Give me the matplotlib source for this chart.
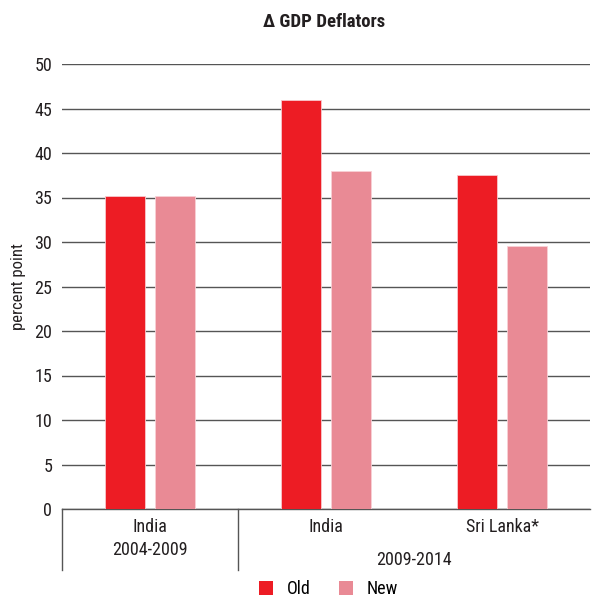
import matplotlib
matplotlib.use("Agg")
import matplotlib.pyplot as plt
from matplotlib import font_manager as fm
from matplotlib.patches import Patch
from matplotlib.lines import Line2D
import numpy as np

# ---- data ----
cat_labels = ["India", "India", "Sri Lanka*"]
period_labels = ["2004-2009", "2009-2014"]
old_values = [35.2, 45.9, 37.5]
new_values = [35.2, 38.0, 29.6]
series_names = ["Old", "New"]
yticks = [0, 5, 10, 15, 20, 25, 30, 35, 40, 45, 50]

# ---- font choice ----
names = {f.name for f in fm.fontManager.ttflist}
fam = "DejaVu Sans"
stretch = "normal"
for cand in ["Roboto Condensed", "Liberation Sans Narrow", "Open Sans Condensed", "DejaVu Sans Condensed"]:
    if cand in names:
        fam = cand
        break
else:
    stretch = "condensed"
plt.rcParams["font.family"] = [fam, "DejaVu Sans"]
plt.rcParams["font.stretch"] = stretch

RED = "#ED1C24"
PINK = "#E98A95"
TXT = "#231F20"

fig = plt.figure(figsize=(5.92, 5.98), dpi=100)
ax = fig.add_axes([62/592, 1-509/598, (590-62)/592, (509-64)/598])

x = np.arange(len(cat_labels))
w = 0.226
off = 0.141
ax.bar(x - off, old_values, w, color=RED, edgecolor="#F8C8CC", linewidth=0.6, zorder=3)
ax.bar(x + off, new_values, w, color=PINK, edgecolor="#F8D0D6", linewidth=0.6, zorder=3)

ax.set_xlim(-0.5, 2.5)
ax.set_ylim(0, 50)
ax.set_yticks(yticks)
ax.yaxis.grid(True, color="#555555", linewidth=1.0, zorder=0)
ax.set_axisbelow(True)
for s in ["top", "right", "left"]:
    ax.spines[s].set_visible(False)
ax.spines["bottom"].set_color("#555555")
ax.spines["bottom"].set_linewidth(1.0)
ax.tick_params(axis="y", length=0, pad=7, labelsize=13, labelcolor=TXT)
ax.set_xticks([])
ax.set_ylabel("percent point", fontsize=12, color=TXT, labelpad=6)

# category labels
for xi, lab in zip(x, cat_labels):
    ax.text(xi, -18/445, lab, transform=ax.get_xaxis_transform(), ha="center", va="center",
            fontsize=13, color=TXT)
ax.text(0, -41/445, period_labels[0], transform=ax.get_xaxis_transform(), ha="center", va="center",
        fontsize=13, color=TXT)
ax.text(1.5, -51/445, period_labels[1], transform=ax.get_xaxis_transform(), ha="center", va="center",
        fontsize=13, color=TXT)
for xs in [-0.5, 0.5]:
    ax.add_line(Line2D([xs, xs], [0, -61/445], transform=ax.get_xaxis_transform(),
                       color="#555555", linewidth=1.0, clip_on=False))

fig.text(324/592, 1-22/598, "Δ GDP Deflators", ha="center", va="center",
         fontsize=13.5, fontweight="bold", color=TXT)

handles = [Patch(facecolor=RED, edgecolor="none"), Patch(facecolor=PINK, edgecolor="none")]
fig.legend(handles, series_names, loc="center", bbox_to_anchor=(328.5/592, 1-589/598), ncol=2,
           frameon=False, fontsize=13, handlelength=0.78, handleheight=0.78,
           handletextpad=0.78, columnspacing=1.55)

fig.savefig("out.png", dpi=100)
